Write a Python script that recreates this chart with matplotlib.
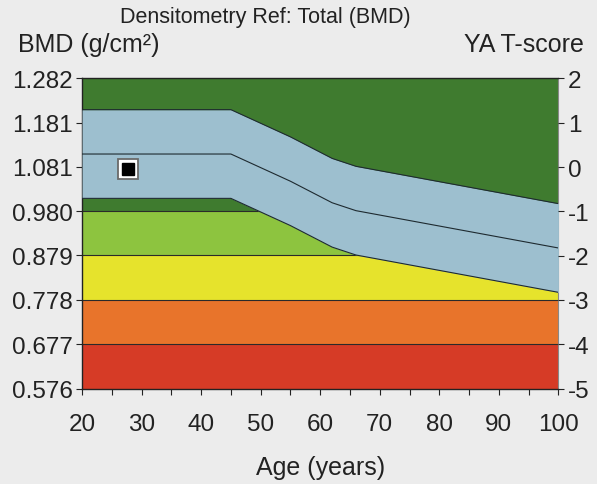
import numpy as np
import matplotlib
matplotlib.use("Agg")
import matplotlib.pyplot as plt

plt.rcParams['font.family'] = ['Liberation Sans', 'DejaVu Sans']
plt.rcParams['axes.unicode_minus'] = False

# reference curve (young adult mean) and 1 SD
age_ref = [20, 45, 55, 62, 66, 70, 100]
bmd_ref = [1.110, 1.110, 1.048, 0.999, 0.981, 0.971, 0.896]
sd = 0.101

# background bands (bmd limits) and colours
band_edges = [0.576, 0.677, 0.778, 0.879, 0.980, 1.282]
band_colors = ['#d63b26', '#e8742b', '#e6e32c', '#8dc43f', '#3f7b2f']

bmd_ticks = [0.576, 0.677, 0.778, 0.879, 0.980, 1.081, 1.181, 1.282]
t_ticks = [-5, -4, -3, -2, -1, 0, 1, 2]
age_ticks = [20, 30, 40, 50, 60, 70, 80, 90, 100]

patient_age = 27.8
patient_bmd = 1.075

bg = '#ececec'
fig = plt.figure(figsize=(5.97, 4.85), dpi=100, facecolor=bg)
ax = fig.add_axes([0.1374, 0.1969, 0.798, 0.6392])
ax.set_facecolor(bg)

x = np.array([20, 100])
for lo, hi, c in zip(band_edges[:-1], band_edges[1:], band_colors):
    ax.fill_between(x, lo, hi, color=c, lw=0, zorder=1)
for e in band_edges[1:-1]:
    ax.plot(x, [e, e], color='#2a2a2a', lw=0.8, zorder=2)

ref = np.array(bmd_ref)
ax.fill_between(age_ref, ref - sd, ref + sd, color='#9dbfcf', lw=0, zorder=3)
for off in (-sd, 0, sd):
    ax.plot(age_ref, ref + off, color='#1e2a30', lw=0.8, zorder=4)

# patient marker
ax.plot(patient_age, patient_bmd, 's', ms=14.5, mfc='white', mec='#6a6a6a', mew=1.3, zorder=6)
ax.plot(patient_age, patient_bmd, 's', ms=9, mfc='black', mec='black', zorder=7)

ax.set_xlim(20, 100)
ax.set_ylim(0.576, 1.282)
ax.set_xticks(age_ticks)
ax.set_xticks(np.arange(25, 100, 10), minor=True)
ax.set_yticks(bmd_ticks)
ax.set_yticklabels(['%.3f' % v for v in bmd_ticks])
ax.tick_params(axis='both', which='both', direction='out', length=4.3, width=0.8,
               labelsize=17.5, colors='#222222', pad=2.5)
ax.tick_params(axis='x', which='both', pad=13)

for s in ['top', 'left', 'bottom']:
    ax.spines[s].set_color('#222222')
    ax.spines[s].set_linewidth(1.0)
ax.spines['right'].set_color('#888888')
ax.spines['right'].set_linewidth(0.8)
ax.spines['top'].set_zorder(8)

ax2 = ax.twinx()
ax2.set_ylim(-5, 1.99)
ax2.set_yticks(t_ticks)
ax2.set_yticklabels([str(t) for t in t_ticks])
ax2.tick_params(axis='y', direction='out', length=4.3, width=0.8, labelsize=17.5,
                colors='#222222', pad=2.5)
for s in ax2.spines.values():
    s.set_visible(False)

ax.set_xlabel('Age (years)', fontsize=18, labelpad=15, color='#222222')
fig.text(0.444, 0.964, 'Densitometry Ref: Total (BMD)', fontsize=15.5,
         ha='center', va='center', color='#222222')
fig.text(0.030, 0.907, 'BMD (g/cm²)', fontsize=18, ha='left', va='center', color='#222222')
fig.text(0.978, 0.907, 'YA T-score', fontsize=18, ha='right', va='center', color='#222222')

fig.savefig('out.png', dpi=100, facecolor=bg)
